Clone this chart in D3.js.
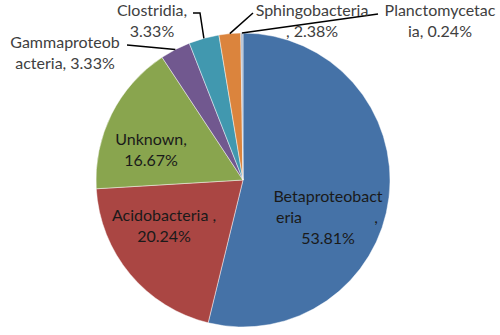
<!doctype html>
<html lang="en">
<head>
  <meta charset="UTF-8">
  <title>Pie Chart</title>
<style>
  body{ margin: 0; background: #fff; }
  .label{
    font-family: Lato, "Open Sans", sans-serif;
    font-size: 16px;
  }
  .leader{
    fill: none;
    stroke: #000;
    stroke-width: 1.5px;
  }
</style>
</head>

<body>
<script src="https://d3js.org/d3.v7.min.js"></script>

<script>
var width = 500,
    height = 335;

// data
var categories = ["Betaproteobacteria", "Acidobacteria", "Unknown",
                  "Gammaproteobacteria", "Clostridia", "Sphingobacteria", "Planctomycetacia"];
var values = [53.81, 20.24, 16.67, 3.33, 3.33, 2.38, 0.24];
var valueLabels = ["53.81%", "20.24%", "16.67%", "3.33%", "3.33%", "2.38%", "0.24%"];

var colors = ["#4572A7", "#AA4643", "#89A54E", "#71588F", "#4198AF", "#DB843D", "#A9B9CE"];

// how the labels got wrapped in the original
var labelLines = [
  ["Betaproteobact", "eria", "53.81%"],
  ["Acidobacteria ,", "20.24%"],
  ["Unknown,", "16.67%"],
  ["Gammaproteob", "acteria, 3.33%"],
  ["Clostridia,", "3.33%"],
  ["Sphingobacteria", ", 2.38%"],
  ["Planctomycetac", "ia, 0.24%"]
];

var cx = 243, cy = 180, radius = 147;

// label block centres and leader elbows (layout only)
var labelPos = [
  {x: 328, y: 217, inside: true},
  {x: 164, y: 226, inside: true},
  {x: 151, y: 150, inside: true},
  {x: 65,  y: 53,  elbow: [127, 45]},
  {x: 152, y: 21,  elbow: [193, 13], elbow2: [200, 13]},
  {x: 312, y: 21,  elbow: [253, 13]},
  {x: 440, y: 21,  elbow: [378, 14]}
];

var pie = d3.pie().sort(null).value(function(d){ return d; });
var arcs = pie(values);

var arc = d3.arc().innerRadius(0).outerRadius(radius);

var svg = d3.select("body").append("svg")
    .attr("width", width)
    .attr("height", height);

var g = svg.append("g")
    .attr("transform", "translate(" + cx + "," + cy + ")");

g.selectAll("path.slice")
    .data(arcs)
  .enter().append("path")
    .attr("class", "slice")
    .attr("d", arc)
    .attr("fill", function(d, i){ return colors[i]; })
    .attr("stroke", "rgba(255,255,255,0.45)")
    .attr("stroke-width", 1);

// leader lines for the small slices
arcs.forEach(function(d, i){
  var p = labelPos[i];
  if (p.inside) return;
  var a = (d.startAngle + d.endAngle) / 2;
  var sx = cx + Math.sin(a) * radius,
      sy = cy - Math.cos(a) * radius;
  var pts = [[sx, sy]];
  if (p.elbow2) pts.push(p.elbow2);
  pts.push(p.elbow);
  svg.append("path")
      .attr("class", "leader")
      .attr("d", d3.line()(pts));
});

var lineH = 21;

labelLines.forEach(function(lines, i){
  var p = labelPos[i];
  var t = svg.append("text")
      .attr("class", "label")
      .attr("fill", p.inside ? "#1a1a1a" : "#404040")
      .attr("text-anchor", "middle");
  var y0 = p.y - (lines.length - 1) * lineH / 2;
  lines.forEach(function(s, j){
    var x = p.x;
    if (i === 0 && j === 1) x = 289;
    t.append("tspan")
        .attr("x", x)
        .attr("y", y0 + j * lineH)
        .attr("dy", "0.35em")
        .text(s);
  });
  if (i === 0) {
    svg.append("text")
        .attr("class", "label")
        .attr("fill", "#1a1a1a")
        .attr("x", 376)
        .attr("y", y0 + lineH)
        .attr("dy", "0.35em")
        .attr("text-anchor", "middle")
        .text(",");
  }
});
</script>
</body>
</html>
